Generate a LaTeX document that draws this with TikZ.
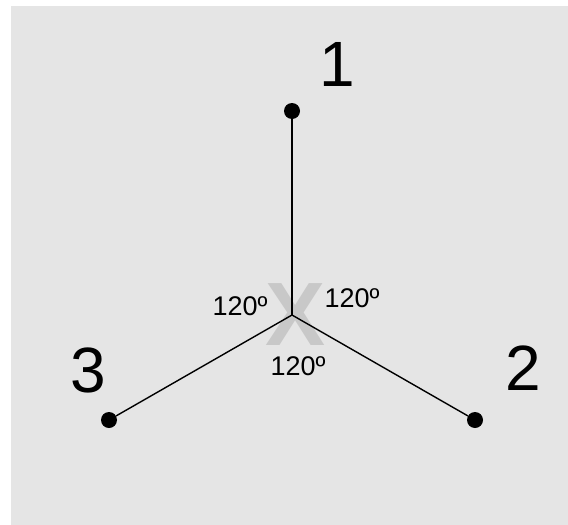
\documentclass[tikz,border=0pt]{standalone}
\usepackage{fontspec}
\setmainfont{Liberation Sans}
\definecolor{bg}{RGB}{229,229,229}
\definecolor{xgray}{RGB}{200,200,200}
\begin{document}
\begin{tikzpicture}[x=1pt,y=-1pt,
  dot/.style={circle,fill=black,inner sep=0pt,minimum size=16pt},
  bignum/.style={font=\fontsize{64}{64}\selectfont,anchor=base,inner sep=0pt},
  anglbl/.style={font=\fontsize{27}{27}\selectfont,anchor=base,inner sep=0pt},
  spoke/.style={line width=1.4pt}]
\useasboundingbox (0,0) rectangle (568,525);
\fill[bg] (11,6) rectangle (568,525);
\node[font=\fontsize{90}{90}\selectfont\bfseries,text=xgray,inner sep=0pt] (xmark) at (296,315) {X};
\coordinate (c) at (292,315);
\node[dot] (p1) at (292,111) {};
\node[dot] (p2) at (475,420) {};
\node[dot] (p3) at (109,420) {};
\draw[spoke] (c) -- (p1);
\draw[spoke] (c) -- (p2);
\draw[spoke] (c) -- (p3);
\node[bignum] (l1) at (337,86) {1};
\node[bignum] (l2) at (523,390) {2};
\node[bignum] (l3) at (88,392) {3};
\node[anglbl] (a1) at (240,315) {120º};
\node[anglbl] (a2) at (352,307) {120º};
\node[anglbl] (a3) at (298,375) {120º};
\end{tikzpicture}
\end{document}
